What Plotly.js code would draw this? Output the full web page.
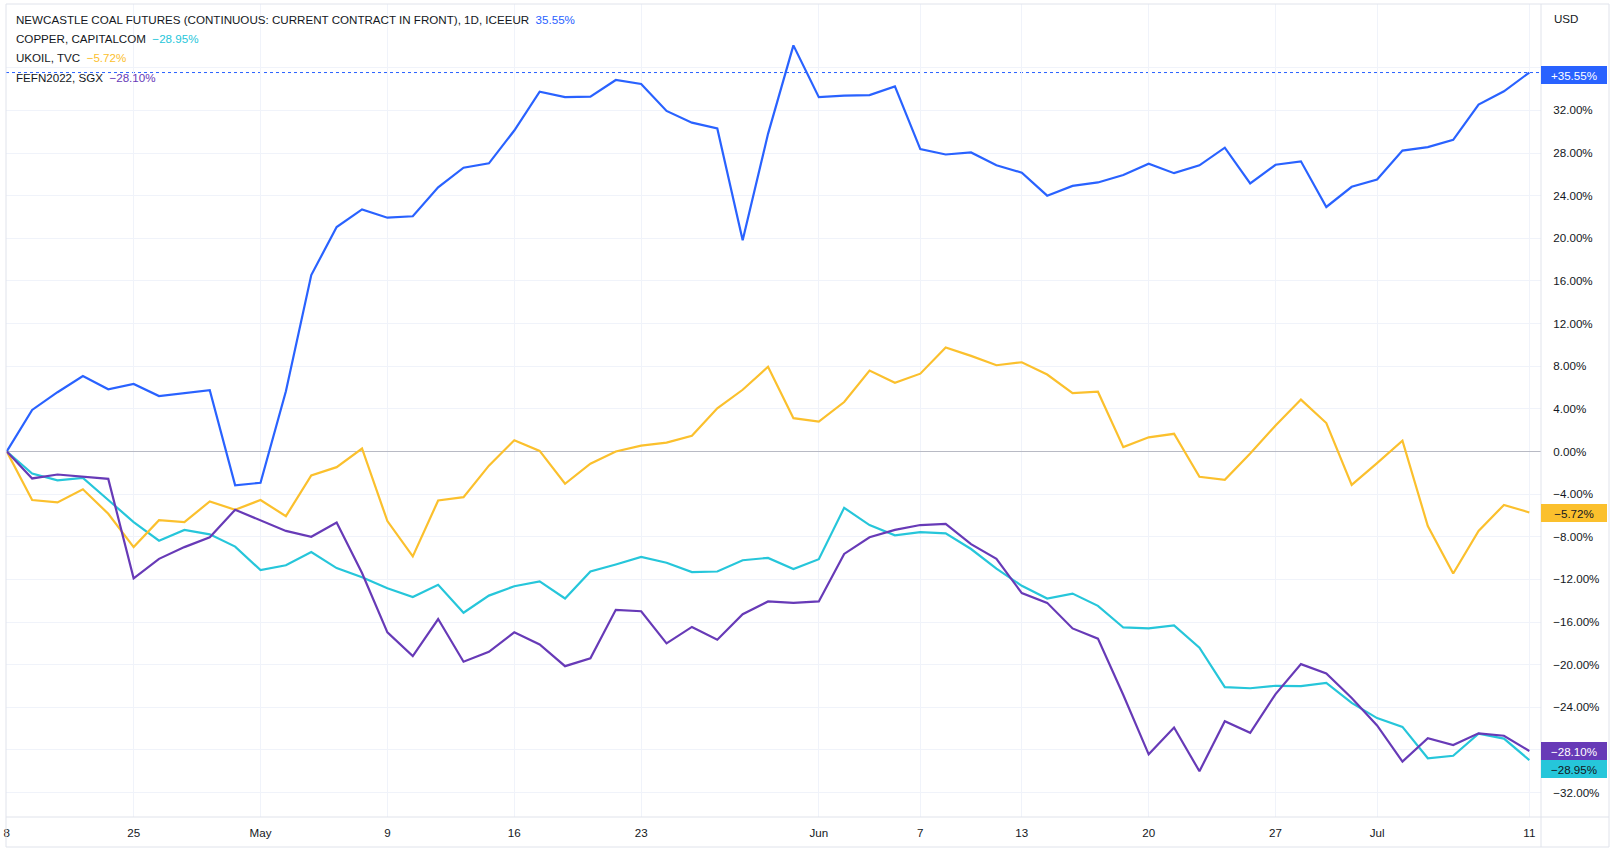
<!DOCTYPE html>
<html>
<head>
<meta charset="utf-8">
<script src="https://cdn.plot.ly/plotly-3.0.1.min.js"></script>
<style>
  html, body { margin: 0; padding: 0; background: #ffffff; }
  #chart { width: 1620px; height: 852px; }
</style>
</head>
<body>
<div id="chart"></div>
<script>
// ---- data (percent change from 18 Apr 2022) ----
const dates = [
  '2022-04-18','2022-04-19','2022-04-20','2022-04-21','2022-04-22',
  '2022-04-25','2022-04-26','2022-04-27','2022-04-28','2022-04-29',
  '2022-05-02','2022-05-03','2022-05-04','2022-05-05','2022-05-06',
  '2022-05-09','2022-05-10','2022-05-11','2022-05-12','2022-05-13',
  '2022-05-16','2022-05-17','2022-05-18','2022-05-19','2022-05-20',
  '2022-05-23','2022-05-24','2022-05-25','2022-05-26','2022-05-27',
  '2022-05-30','2022-05-31','2022-06-01','2022-06-02','2022-06-03',
  '2022-06-06','2022-06-07','2022-06-08','2022-06-09','2022-06-10',
  '2022-06-13','2022-06-14','2022-06-15','2022-06-16','2022-06-17',
  '2022-06-20','2022-06-21','2022-06-22','2022-06-23','2022-06-24',
  '2022-06-27','2022-06-28','2022-06-29','2022-06-30','2022-07-01',
  '2022-07-04','2022-07-05','2022-07-06','2022-07-07','2022-07-08',
  '2022-07-11'
];

const coal = [
  0, 3.9, 5.56, 7.08, 5.84, 6.34, 5.2, 5.5, 5.75, -3.17,
  -2.94, 5.65, 16.55, 21.06, 22.71, 21.93, 22.07, 24.78, 26.62, 27.03,
  30.11, 33.75, 33.24, 33.29, 34.85, 34.48, 31.95, 30.85, 30.3, 19.82,
  29.8, 38.1, 33.24, 33.38, 33.43, 34.25, 28.37, 27.86, 28.05, 26.85,
  26.16, 24.0, 24.92, 25.24, 25.93, 26.99, 26.11, 26.85, 28.5, 25.15,
  26.9, 27.22, 22.94, 24.83, 25.52, 28.23, 28.55, 29.24, 32.55, 33.79,
  35.55
];

const copper = [
  0, -2.07, -2.71, -2.48, -4.55, -6.62, -8.37, -7.36, -7.77, -8.92,
  -11.13, -10.67, -9.43, -10.94, -11.8, -12.83, -13.66, -12.5, -15.13, -13.52,
  -12.64, -12.18, -13.79, -11.26, -10.6, -9.89, -10.44, -11.31, -11.26, -10.2,
  -9.98, -11.03, -10.11, -5.29, -6.9, -7.86, -7.57, -7.68, -9.15, -10.99,
  -12.6, -13.79, -13.33, -14.48, -16.51, -16.6, -16.32, -18.4, -22.1, -22.21,
  -21.98, -22.02, -21.7, -23.59, -25.01, -25.84, -28.78, -28.55, -26.48, -26.94,
  -28.95
];

const ukoil = [
  0, -4.55, -4.78, -3.54, -5.84, -8.97, -6.44, -6.62, -4.69, -5.47,
  -4.55, -6.07, -2.25, -1.47, 0.28, -6.53, -9.84, -4.6, -4.28, -1.33,
  1.06, 0.05, -3.03, -1.15, 0, 0.55, 0.83, 1.47, 4.05, 5.79,
  7.95, 3.13, 2.8, 4.64, 7.59, 6.44, 7.3, 9.75, 8.97, 8.09,
  8.37, 7.22, 5.47, 5.61, 0.41, 1.33, 1.66, -2.37, -2.65, -0.18,
  2.44, 4.87, 2.67, -3.13, -1.1, 1.01, -6.99, -11.45, -7.45, -5.01,
  -5.72
];

const fefn = [
  0, -2.53, -2.16, -2.39, -2.57, -11.9, -10.07, -8.97, -8.05, -5.47,
  -6.44, -7.45, -8.0, -6.67, -11.4, -16.97, -19.2, -15.72, -19.72, -18.8,
  -16.97, -18.11, -20.14, -19.4, -14.85, -14.99, -18.0, -16.46, -17.66, -15.26,
  -14.07, -14.2, -14.07, -9.61, -8.05, -7.36, -6.9, -6.8, -8.69, -10.07,
  -13.29, -14.2, -16.6, -17.56, -22.85, -28.41, -25.89, -30.0, -25.3, -26.39,
  -22.76, -19.95, -20.83, -23.13, -25.7, -29.1, -26.9, -27.54, -26.44, -26.67,
  -28.10
];

const seriesNames = [
  'NEWCASTLE COAL FUTURES (CONTINUOUS: CURRENT CONTRACT IN FRONT), 1D, ICEEUR',
  'COPPER, CAPITALCOM',
  'UKOIL, TVC',
  'FEFN2022, SGX'
];
const seriesLabels = ['35.55%', '\u221228.95%', '\u22125.72%', '\u221228.10%'];
const boxLabels = ['+35.55%', '\u221228.95%', '\u22125.72%', '\u221228.10%'];

const tickDates = ['2022-04-18','2022-04-25','2022-05-02','2022-05-09','2022-05-16','2022-05-23',
                   '2022-06-01','2022-06-07','2022-06-13','2022-06-20','2022-06-27','2022-07-01','2022-07-11'];
const tickLabels = ['8','25','May','9','16','23','Jun','7','13','20','27','Jul','11'];
const yTicks = [-32,-28,-24,-20,-16,-12,-8,-4,0,4,8,12,16,20,24,28,32,36];
const hiddenTicks = [-28, 36];   // labels covered by the last-value boxes

// ---- styling ----
const FONT = 'Liberation Sans, Arial, sans-serif';
const FS = 11.6;
const TXT = '#131722';
const GRID = '#f0f3fa';
const FRAME = '#e0e3eb';
const colors = ['#2962ff', '#26c6da', '#fbc02d', '#673ab7'];
const boxText = ['#ffffff', '#131722', '#131722', '#ffffff'];
const values = [coal, copper, ukoil, fefn];
const boxShift = [-2, -9, -1, 0];

const traces = values.map((v, i) => ({
  type: 'scatter', mode: 'lines', x: dates, y: v,
  line: { color: colors[i], width: 2.2 },
  hoverinfo: 'skip', showlegend: false
}));
const fmt = v => hiddenTicks.includes(v) ? '' : (v < 0 ? '\u2212' : '') + Math.abs(v).toFixed(2) + '%';

const plotW = 1620 - 6 - 79, plotH = 852 - 4 - 35;
const px = x => (x - 6) / plotW;          // pixel -> paper x
const py = y => (852 - 35 - y) / plotH;    // pixel -> paper y

const annotations = [];
// legend lines top-left
const legendY = [19.5, 39, 57.5, 77];
seriesNames.forEach((n, i) => {
  annotations.push({
    xref: 'paper', yref: 'paper', x: px(14), y: py(legendY[i]),
    xanchor: 'left', yanchor: 'middle', showarrow: false,
    text: n + '\u00a0\u00a0<span style="color:' + colors[i] + '">' + seriesLabels[i] + '</span>',
    font: { family: FONT, size: FS, color: '#131722' }
  });
});
// last value boxes on the price scale
values.forEach((v, i) => {
  annotations.push({
    xref: 'paper', yref: 'y', x: 1, y: v[v.length - 1], xanchor: 'left', yanchor: 'middle',
    yshift: boxShift[i], showarrow: false, text: boxLabels[i],
    bgcolor: colors[i], bordercolor: colors[i], borderwidth: 1, borderpad: 1,
    width: 62, height: 14, align: 'center',
    font: { family: FONT, size: FS, color: boxText[i] }
  });
});
// currency label
annotations.push({
  xref: 'paper', yref: 'paper', x: px(1552), y: py(19), xanchor: 'left', yanchor: 'middle',
  showarrow: false, text: 'USD', font: { family: FONT, size: FS, color: TXT }
});

const shapes = [
  { type: 'rect', xref: 'paper', yref: 'paper', x0: 0, x1: px(1609), y0: py(847), y1: 1,
    line: { color: FRAME, width: 1 }, layer: 'above' },
  { type: 'line', xref: 'paper', yref: 'paper', x0: 0, x1: px(1609), y0: 0, y1: 0,
    line: { color: FRAME, width: 1 }, layer: 'above' },
  { type: 'line', xref: 'paper', yref: 'paper', x0: 1, x1: 1, y0: py(847), y1: 1,
    line: { color: FRAME, width: 1 }, layer: 'above' },
  { type: 'line', xref: 'paper', yref: 'y', x0: 0, x1: 1,
    y0: coal[coal.length - 1], y1: coal[coal.length - 1],
    line: { color: colors[0], width: 1, dash: 'dot' }, layer: 'below' }
];

const layout = {
  width: 1620, height: 852,
  margin: { l: 6, r: 79, t: 4, b: 35, pad: 0 },
  paper_bgcolor: '#ffffff', plot_bgcolor: '#ffffff',
  showlegend: false,
  font: { family: FONT, size: FS, color: TXT },
  xaxis: {
    type: 'category', range: [-0.03, 60.46],
    tickmode: 'array', tickvals: tickDates, ticktext: tickLabels,
    showgrid: true, gridcolor: GRID, gridwidth: 1,
    ticks: 'outside', ticklen: 5, tickcolor: 'rgba(0,0,0,0)',
    tickfont: { family: FONT, size: FS, color: TXT },
    showline: false, zeroline: false, fixedrange: true
  },
  yaxis: {
    side: 'right', range: [-34.29, 41.98],
    tickmode: 'array', tickvals: yTicks, ticktext: yTicks.map(fmt),
    showgrid: true, gridcolor: GRID, gridwidth: 1,
    zeroline: true, zerolinecolor: '#b8bac4', zerolinewidth: 1.5,
    ticks: 'outside', ticklen: 9, tickcolor: 'rgba(0,0,0,0)',
    tickfont: { family: FONT, size: FS, color: TXT },
    showline: false, fixedrange: true
  },
  annotations: annotations,
  shapes: shapes
};

Plotly.newPlot('chart', traces, layout, { displayModeBar: false, staticPlot: true });
</script>
</body>
</html>
